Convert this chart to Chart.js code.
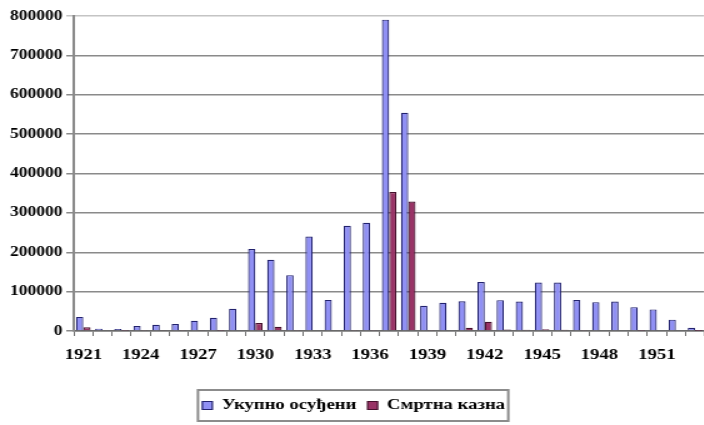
<!DOCTYPE html>
<html>
<head>
<meta charset="utf-8">
<script src="https://cdn.jsdelivr.net/npm/chart.js@4.4.1/dist/chart.umd.min.js"></script>
<style>
  html, body { margin: 0; padding: 0; background: #fff; overflow: hidden; }
  #wrap { width: 566px; height: 425px; transform: scaleX(1.25); transform-origin: 0 0; }
</style>
</head>
<body>
<div id="wrap"><canvas id="c" width="566" height="425" style="width:566px;height:425px"></canvas></div>
<script>
// Years shown on the category axis
const years = ['1921','1922','1923','1924','1925','1926','1927','1928','1929','1930',
               '1931','1932','1933','1934','1935','1936','1937','1938','1939','1940',
               '1941','1942','1943','1944','1945','1946','1947','1948','1949','1950',
               '1951','1952','1953'];

// Total number of people convicted per year
const convicted = [35800, 6000, 4800, 12400, 16000, 17800, 26000, 33800, 56200, 208000,
                   180700, 141900, 239700, 79000, 267100, 274700, 790700, 554300, 63900, 71800,
                   75400, 124400, 78400, 75100, 123200, 123300, 78800, 73300, 75100, 60600,
                   54800, 28800, 8400];

// Death sentences per year
const executed = [9700, 2000, 400, 2600, 2400, 1000, 2400, 900, 2100, 20200,
                  10700, 2700, 2200, 2100, 1200, 1100, 353100, 328600, 2600, 1600,
                  8000, 23300, 3600, 3000, 4300, 2900, 1100, 0, 0, 500,
                  1600, 1600, 200];

const seriesNames = ['Укупно осуђени', 'Смртна казна'];

const yTicks = { min: 0, max: 800000, step: 100000 };

// Frame drawn around the legend entries
const legendFrame = {
  id: 'legendFrame',
  afterDraw(chart) {
    const lg = chart.legend;
    if (!lg || !lg.legendHitBoxes || !lg.legendHitBoxes.length) return;
    const hb = lg.legendHitBoxes;
    const l = Math.min(...hb.map(b => b.left));
    const r = Math.max(...hb.map(b => b.left + b.width));
    const t = Math.min(...hb.map(b => b.top));
    const btm = Math.max(...hb.map(b => b.top + b.height));
    const ctx = chart.ctx;
    ctx.save();
    ctx.strokeStyle = '#8c8c8c';
    ctx.lineWidth = 2;
    ctx.strokeRect(l - 3.5, t - 8, r - l + 6, btm - t + 16);
    ctx.restore();
  }
};

const serif = "'Liberation Serif', 'Times New Roman', serif";

new Chart(document.getElementById('c'), {
  type: 'bar',
  data: {
    labels: years,
    datasets: [
      {
        label: seriesNames[0],
        data: convicted,
        backgroundColor: '#9090f4',
        borderColor: '#22226e',
        borderWidth: 1.2,
        categoryPercentage: 0.76,
        barPercentage: 1.0
      },
      {
        label: seriesNames[1],
        data: executed,
        backgroundColor: '#993366',
        borderColor: '#45102c',
        borderWidth: 1.2,
        categoryPercentage: 0.76,
        barPercentage: 1.0
      }
    ]
  },
  options: {
    responsive: false,
    animation: false,
    devicePixelRatio: 1,
    layout: { padding: { top: 16, left: 0, right: 0, bottom: 2 } },
    plugins: {
      legend: {
        position: 'bottom',
        labels: {
          boxWidth: 8,
          boxHeight: 8,
          padding: 9,
          color: '#000',
          font: { family: serif, size: 15, weight: 'bold' }
        }
      },
      tooltip: { enabled: false }
    },
    scales: {
      x: {
        offset: true,
        grid: {
          offset: true,
          drawOnChartArea: false,
          drawTicks: true,
          tickLength: 5,
          color: '#707070',
          lineWidth: 1
        },
        border: { display: true, color: '#6a6a6a', width: 1.5 },
        ticks: {
          autoSkip: false,
          maxRotation: 0,
          minRotation: 0,
          padding: 10,
          color: '#000',
          font: { family: serif, size: 15, weight: 'bold' },
          callback: (v, i) => (i % 3 === 0 ? years[i] : '')
        },
        afterFit: (s) => { s.height = 58; }
      },
      y: {
        min: yTicks.min,
        max: yTicks.max,
        grid: {
          color: (ctx) => (ctx.tick && ctx.tick.value === yTicks.max ? '#c4c4c4' : '#8a8a8a'),
          lineWidth: 1.5,
          drawTicks: true,
          tickLength: 6
        },
        border: { display: true, color: '#8a8a8a', width: 2 },
        ticks: {
          stepSize: yTicks.step,
          padding: 3,
          color: '#000',
          font: { family: serif, size: 14, weight: 'bold' },
          callback: (v) => String(v)
        },
        afterFit: (s) => { s.width = 59; }
      }
    }
  },
  plugins: [legendFrame]
});
</script>
</body>
</html>
